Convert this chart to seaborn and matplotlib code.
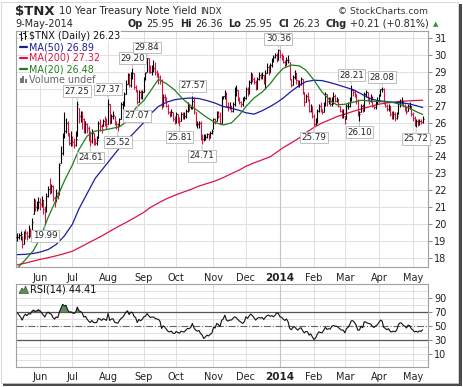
import numpy as np
import pandas as pd
import matplotlib
matplotlib.use('Agg')
import matplotlib.pyplot as plt
import seaborn as sns
from matplotlib.lines import Line2D
from matplotlib.patches import Rectangle, Polygon

# ------------------------------------------------------------------ data
first_day, last_day = '2013-05-13', '2014-05-09'
holidays = ['2013-05-27', '2013-07-04', '2013-09-02', '2013-11-28', '2013-12-25',
            '2014-01-01', '2014-01-20', '2014-02-17', '2014-04-18']

close_vals = [
    19.25, 19.38, 19.42, 18.80, 19.52, 19.45, 19.30, 19.60, 19.55, 20.10,
    21.30, 21.00, 21.10, 21.30, 21.20, 21.40, 20.90, 20.70, 21.65,
    22.10, 22.00, 22.25, 21.55, 21.30, 21.85, 21.80, 23.50, 24.20, 25.20,
    25.50, 26.00, 25.40, 24.80, 24.90, 24.85, 24.70, 25.05, 27.10,
    26.40, 26.40, 26.20, 25.70, 25.90, 25.70, 25.30, 24.90, 25.40, 24.90,
    24.80, 25.00, 25.95, 25.80, 25.60, 26.10, 26.00, 25.80, 27.10, 26.00,
    26.40, 26.45, 26.00, 25.90, 25.80, 26.20, 27.10, 27.10, 27.70, 28.30,
    28.80, 28.20, 28.90, 28.90, 28.10, 27.90, 27.20, 27.80, 27.50, 27.80,
    28.60, 28.95, 29.80, 29.30, 29.00, 29.10, 29.20, 29.00, 28.90,
    28.70, 28.50, 26.90, 27.50, 27.40, 27.00, 26.60, 26.50, 26.60, 26.20,
    26.10, 26.50, 26.20, 26.10, 26.50, 26.40, 26.40, 26.70, 27.00, 26.90,
    26.90, 27.30, 26.70, 25.90, 25.90, 26.00, 25.10, 25.05, 25.10, 25.15,
    25.30, 25.20, 25.40, 25.50, 26.20, 26.10, 26.60, 26.40, 26.00, 27.50,
    27.55, 27.70, 27.00, 26.90, 27.00, 26.70, 27.10, 27.90, 27.90, 27.40,
    27.20, 27.10, 27.40, 27.45, 28.00, 27.80, 28.40, 28.80, 28.60,
    28.40, 28.00, 28.60, 28.80, 28.70, 28.80, 28.40, 28.90, 29.30, 28.90,
    29.40, 29.70, 29.90, 30.00, 29.70, 30.30, 30.00, 29.90,
    29.60, 29.40, 29.70, 29.70, 28.60, 28.20, 28.70, 28.90, 28.50, 28.20,
    28.30, 28.60, 27.80, 27.20, 27.60, 27.50, 26.70, 27.00, 26.40,
    25.90, 26.10, 26.70, 27.00, 26.80, 26.60, 27.10, 27.70, 27.30, 27.40,
    27.10, 27.30, 27.60, 27.30, 27.40, 27.00, 26.70, 26.40, 26.50,
    26.00, 27.00, 27.00, 27.40, 27.90, 27.80, 27.70, 27.30, 26.50, 26.50,
    27.00, 26.70, 27.70, 27.80, 27.40, 27.30, 27.50, 27.00, 26.90, 27.20,
    27.30, 27.60, 28.00, 28.00, 27.20, 27.00, 26.80, 27.00, 26.50, 26.30,
    26.50, 26.30, 26.40, 27.20, 27.20, 27.30, 27.00, 26.90, 26.60,
    27.00, 27.00, 26.50, 26.30, 25.90, 26.10, 25.95, 26.10, 26.02, 26.23]

high_vals = [
    19.45, 19.50, 19.62, 19.30, 19.60, 19.70, 19.60, 19.95, 19.80, 20.35,
    21.55, 21.50, 21.35, 21.60, 21.55, 21.65, 21.45, 21.05, 21.85,
    22.25, 22.70, 22.40, 22.30, 21.65, 22.05, 21.95, 23.60, 24.60, 25.40,
    26.60, 26.30, 26.10, 25.40, 25.50, 25.20, 25.10, 25.50, 27.25,
    26.85, 26.70, 26.70, 26.30, 26.10, 26.00, 25.80, 25.50, 25.60, 25.40,
    25.10, 25.20, 26.10, 26.20, 25.90, 26.20, 26.40, 26.30, 27.37, 27.10,
    26.50, 26.70, 26.40, 26.10, 26.00, 26.30, 27.20, 27.30, 27.80, 28.50,
    28.90, 28.90, 29.00, 29.20, 28.95, 28.20, 27.90, 27.90, 27.90, 27.90,
    28.70, 29.00, 29.84, 29.80, 29.40, 29.40, 29.70, 29.60, 29.10,
    28.90, 28.80, 28.60, 27.70, 27.70, 27.50, 27.10, 26.70, 26.80, 26.65,
    26.40, 26.60, 26.50, 26.35, 26.60, 26.60, 26.60, 26.80, 27.20, 27.10,
    27.00, 27.57, 27.50, 26.60, 26.10, 26.10, 26.10, 25.30, 25.30, 25.30,
    25.40, 25.40, 25.50, 25.60, 26.30, 26.30, 26.70, 26.70, 26.60, 27.60,
    27.60, 27.90, 27.80, 27.20, 27.20, 27.00, 27.20, 28.10, 28.20, 27.90,
    27.50, 27.30, 27.50, 27.60, 28.10, 28.10, 28.50, 29.00, 28.90,
    28.70, 28.50, 28.70, 29.00, 28.90, 29.00, 28.80, 29.10, 29.50, 29.40,
    29.50, 29.80, 30.00, 30.10, 30.10, 30.36, 30.30, 30.10,
    30.00, 29.70, 29.90, 30.00, 29.60, 28.60, 28.80, 29.10, 28.90, 28.50,
    28.50, 28.70, 28.60, 27.80, 27.70, 27.80, 27.40, 27.10, 26.90,
    26.50, 26.30, 26.80, 27.10, 27.20, 26.80, 27.20, 27.80, 27.70, 27.50,
    27.50, 27.50, 27.80, 27.70, 27.50, 27.40, 27.00, 26.80, 26.80,
    26.40, 27.10, 27.20, 27.50, 28.21, 28.00, 27.90, 27.70, 27.40, 26.70,
    27.10, 27.10, 27.80, 27.90, 27.80, 27.50, 27.70, 27.60, 27.00, 27.30,
    27.50, 27.70, 28.00, 28.08, 28.05, 27.20, 27.10, 27.10, 27.00, 26.70,
    26.70, 26.60, 26.60, 27.30, 27.40, 27.50, 27.30, 27.10, 27.00,
    27.10, 27.20, 27.00, 26.60, 26.40, 26.20, 26.20, 26.20, 26.20, 26.36]

low_vals = [
    19.00, 19.10, 19.05, 18.62, 18.85, 19.10, 19.05, 19.20, 19.25, 19.55,
    20.60, 20.80, 20.75, 20.90, 20.85, 21.00, 20.60, 19.99, 20.70,
    21.60, 21.80, 21.85, 21.35, 21.00, 21.35, 21.50, 21.70, 23.60, 24.10,
    25.10, 25.40, 25.20, 24.70, 24.60, 24.60, 24.50, 24.60, 25.20,
    26.00, 26.05, 25.60, 25.40, 25.40, 25.40, 24.90, 24.61, 24.80, 24.70,
    24.65, 24.70, 25.10, 25.50, 25.40, 25.80, 25.80, 25.60, 25.90, 25.90,
    26.00, 26.20, 25.85, 25.60, 25.52, 25.80, 26.20, 26.80, 27.00, 27.70,
    28.30, 28.10, 28.10, 28.60, 28.00, 27.80, 27.07, 27.20, 27.40, 27.40,
    27.80, 28.50, 29.00, 28.90, 28.90, 28.80, 29.00, 28.80, 28.70,
    28.30, 28.30, 26.80, 27.00, 27.30, 26.90, 26.50, 26.35, 26.40, 26.10,
    25.90, 26.00, 26.00, 25.81, 26.10, 26.20, 26.20, 26.30, 26.60, 26.70,
    26.80, 26.80, 26.50, 25.80, 25.70, 25.70, 24.95, 24.71, 24.90, 25.00,
    25.10, 25.00, 25.10, 25.30, 25.60, 25.90, 26.10, 26.30, 25.90, 26.00,
    27.40, 27.40, 26.90, 26.70, 26.80, 26.60, 26.60, 27.00, 27.60, 27.30,
    27.10, 26.90, 27.00, 27.30, 27.40, 27.60, 27.70, 28.30, 28.40,
    28.30, 27.90, 28.00, 28.50, 28.60, 28.60, 28.30, 28.00, 28.90, 28.80,
    29.00, 29.30, 29.60, 29.80, 29.60, 29.70, 29.80, 29.70,
    29.50, 29.30, 29.40, 29.50, 28.50, 28.10, 28.20, 28.60, 28.30, 28.10,
    28.10, 28.20, 27.70, 27.00, 27.20, 27.30, 26.60, 26.60, 26.30,
    25.79, 25.85, 26.00, 26.60, 26.60, 26.50, 26.60, 27.00, 27.00, 27.10,
    27.00, 27.00, 27.10, 27.20, 27.20, 26.90, 26.60, 26.30, 26.30,
    25.90, 26.20, 26.80, 26.90, 27.30, 27.60, 27.50, 27.10, 26.40, 26.10,
    26.60, 26.60, 26.70, 27.50, 27.30, 27.10, 27.20, 26.90, 26.80, 26.80,
    27.10, 27.20, 27.60, 27.80, 27.10, 26.90, 26.70, 26.70, 26.40, 26.20,
    26.20, 26.10, 26.20, 26.50, 26.90, 27.10, 26.90, 26.70, 26.50,
    26.70, 26.80, 26.40, 26.10, 25.80, 25.72, 25.80, 25.85, 25.90, 25.95]

rsi_vals = [
    69, 66, 63, 58.5, 64, 67, 65, 68, 67, 71,
    73, 71, 72, 73.5, 72, 69, 66, 63, 68,
    70, 68, 67, 62, 60, 63, 62, 70.5, 76, 81.3,
    79, 80, 73.5, 70, 70.5, 69, 68, 70, 77.4,
    72, 71, 69, 63, 64, 60, 57, 55, 58, 55,
    54.6, 55, 61, 60, 58, 60.5, 59.5, 58, 68, 58,
    60, 60.5, 55.5, 54.6, 54, 58, 61, 62.5, 66, 70,
    72, 66.5, 70, 69.5, 64, 62, 55, 59.5, 57.5, 59.5,
    63, 64, 68, 65, 62.3, 62.8, 63, 61, 60,
    59.5, 57, 46.4, 50, 48.5, 45, 42, 41.4, 42.5, 39.5,
    39, 42, 40.5, 39.5, 42.4, 41.5, 41.5, 44, 46.4, 46,
    48, 53.6, 47, 43.9, 42.5, 43.5, 39, 37, 31.8, 34,
    36.6, 35.5, 38, 39.5, 48, 47, 53.6, 52, 49, 58,
    60, 65.7, 58.5, 57, 58.5, 58.5, 61, 63.3, 62, 59.5,
    57, 55.5, 53.6, 56, 63.3, 61, 64.5, 67.2, 65,
    62, 58.5, 61, 62.3, 61.5, 62.3, 59.5, 62.5, 65, 65.7,
    64, 65, 63.3, 65.5, 69, 68, 63.3, 62.5,
    60, 58, 60, 56.1, 46.4, 44.5, 48, 49, 46, 43.9,
    46.4, 47.5, 43, 40, 42, 41.5, 36.6, 38.5, 34,
    30.3, 32.5, 38, 41.4, 40.5, 40, 44, 48, 45, 46,
    45.5, 49.7, 50.5, 49.7, 49.5, 47.8, 45.5, 43.9, 44,
    40, 46, 48, 52, 57.5, 57.5, 55, 51, 43.9, 44,
    49.7, 47.5, 56.1, 55.5, 54, 53.5, 52.6, 49.5, 47.8, 50,
    51.5, 55, 58.5, 57, 48, 46.4, 44.5, 46, 42, 41.4,
    42.5, 41.5, 43.9, 51.5, 54.6, 54, 51, 49.7, 47,
    51.2, 50.5, 46, 44, 41.4, 42.4, 41, 42.8, 42, 44.41]

# moving averages read at each week's first session (plus the last session)
ma200 = [17.60, 17.70, 17.82, 17.92, 18.02, 18.13, 18.26, 18.40, 18.60, 18.85,
         19.10, 19.35, 19.63, 19.90, 20.15, 20.42, 20.70, 20.98, 21.25, 21.50,
         21.70, 21.88, 22.05, 22.25, 22.40, 22.55, 22.75, 22.98, 23.20, 23.42,
         23.62, 23.80, 23.98, 24.25, 24.52, 24.80, 25.10, 25.40, 25.72, 25.98,
         26.18, 26.35, 26.50, 26.66, 26.80, 26.93, 27.07, 27.15, 27.20, 27.25,
         27.28, 27.31, 27.32]
ma50 = [18.20, 18.22, 18.27, 18.35, 18.50, 18.80, 19.30, 20.00, 20.90, 21.80,
        22.70, 23.30, 23.90, 24.50, 25.00, 25.50, 26.00, 26.50, 26.95, 27.20,
        27.35, 27.42, 27.45, 27.42, 27.30, 27.15, 26.95, 26.85, 26.72, 26.58,
        26.50, 26.70, 26.95, 27.18, 27.45, 27.85, 28.20, 28.42, 28.50, 28.48,
        28.36, 28.25, 28.10, 27.95, 27.70, 27.45, 27.30, 27.25, 27.20, 27.17,
        27.12, 27.00, 26.89]
ma20 = [17.40, 17.90, 18.45, 19.15, 20.40, 21.45, 22.55, 23.50, 24.40, 25.20,
        25.50, 25.55, 25.65, 25.75, 26.10, 26.85, 27.30, 27.85, 28.55, 28.30,
        27.93, 27.40, 27.00, 26.65, 26.30, 26.00, 25.86, 25.98, 26.45, 26.95,
        27.45, 27.80, 28.30, 28.80, 29.20, 29.40, 29.35, 29.10, 28.50, 27.80,
        27.30, 27.05, 27.08, 27.20, 27.32, 27.28, 27.25, 27.22, 27.18, 27.08,
        26.88, 26.65, 26.48]

label_dates = ['2013-06-06', '2013-07-05', '2013-07-17', '2013-08-01', '2013-08-09',
               '2013-08-22', '2013-08-27', '2013-09-05', '2013-10-03', '2013-10-15',
               '2013-10-23', '2013-12-31', '2014-02-03', '2014-03-07', '2014-03-14',
               '2014-04-03', '2014-05-05']
label_kind = ['low', 'high', 'low', 'high', 'low', 'high', 'low', 'high', 'low', 'high',
              'low', 'high', 'low', 'high', 'low', 'high', 'low']

month_names = ['Jun', 'Jul', 'Aug', 'Sep', 'Oct', 'Nov', 'Dec', '2014',
               'Feb', 'Mar', 'Apr', 'May']
price_ticks = list(range(18, 32))
rsi_ticks = [10, 30, 50, 70, 90]

# ------------------------------------------------------------------ style
sns.set_style('white')
plt.rcParams['font.family'] = ['DejaVu Sans']

RED = '#dc1443'
BLUE = '#1c1c9e'
GREEN = '#1f7f1f'
GRID = '#e0e0e0'

dates = pd.bdate_range(first_day, last_day)
dates = dates[~dates.isin(pd.to_datetime(holidays))]
x = np.arange(len(dates))
close = np.array(close_vals)
high = np.array(high_vals)
low = np.array(low_vals)
rsi = np.array(rsi_vals, dtype=float)
prev = np.r_[close[0], close[:-1]]
opn = np.clip(prev, low, high)
bar_col = np.where(close >= prev, '#000000', RED)

ma_dates = list(pd.date_range(first_day, periods=52, freq='7D')) + [pd.Timestamp(last_day)]
ma_x = dates.searchsorted(pd.DatetimeIndex(ma_dates))
month_starts = pd.date_range('2013-06-01', '2014-05-01', freq='MS')
month_pos = dates.searchsorted(month_starts)

W, H = 464, 387
def fx(v):
    return v / W
def fy(v):
    return 1 - v / H

fig = plt.figure(figsize=(W / 100, H / 100), dpi=100)
fig.patch.set_facecolor('white')
ax = fig.add_axes([fx(16), fy(267), fx(428) - fx(16), fy(31) - fy(267)])
axr = fig.add_axes([fx(16), fy(367), fx(428) - fx(16), fy(284) - fy(367)])

XL = (-0.8, 253.3)

# ------------------------------------------------------------------ price panel
for yv in price_ticks:
    ax.axhline(yv, color=GRID, lw=0.7, zorder=0)
for p, name in zip(month_pos, month_names):
    ax.axvline(p, color='#c4c4c4' if name == '2014' else GRID, lw=0.8 if name == '2014' else 0.7, zorder=0)

sns.lineplot(x=ma_x, y=ma200, ax=ax, color=RED, lw=0.9, sort=False, estimator=None, zorder=2)
ax.vlines(x, low, high, colors=bar_col, lw=0.8, zorder=3)
ax.hlines(opn, x - 0.6, x, colors=bar_col, lw=0.8, zorder=3)
ax.hlines(close, x, x + 0.6, colors=bar_col, lw=0.8, zorder=3)
sns.lineplot(x=ma_x, y=ma50, ax=ax, color=BLUE, lw=0.9, sort=False, estimator=None, zorder=4)
sns.lineplot(x=ma_x, y=ma20, ax=ax, color=GREEN, lw=0.9, sort=False, estimator=None, zorder=4)

for d, kind in zip(label_dates, label_kind):
    i = dates.get_loc(pd.Timestamp(d))
    v = high[i] if kind == 'high' else low[i]
    off = 4 if kind == 'high' else -5
    ax.annotate(f'{v:.2f}', xy=(i, v), xytext=(0, off), textcoords='offset points',
                ha='center', va='bottom' if kind == 'high' else 'top', fontsize=6.3,
                bbox=dict(boxstyle='square,pad=0.16', fc='white', ec='#bdbdbd', lw=0.7),
                arrowprops=dict(arrowstyle='-', color='#bdbdbd', lw=0.7, shrinkA=0, shrinkB=1),
                zorder=6, annotation_clip=False)

ax.set_xlim(*XL)
ax.set_ylim(17.47, 31.41)
ax.set_yticks(price_ticks)
ax.set_yticklabels([str(t) for t in price_ticks])
ax.set_xticks(month_pos)
ax.set_xticklabels(month_names)
ax.yaxis.tick_right()
ax.tick_params(axis='y', right=True, left=False, length=3, width=0.7, color='#888888',
               labelsize=7, pad=1.5, labelcolor='#222222')
ax.tick_params(axis='x', bottom=False, length=0, labelsize=7, pad=4, labelcolor='#222222')
for spine in ax.spines.values():
    spine.set_color('#a0a0a0')
    spine.set_linewidth(0.8)
ax.set_xlabel('')
ax.set_ylabel('')

# ------------------------------------------------------------------ RSI panel
for yv in range(0, 101, 10):
    if yv not in (30, 50, 70):
        axr.axhline(yv, color=GRID, lw=0.7, zorder=0)
for p, name in zip(month_pos, month_names):
    axr.axvline(p, color='#c4c4c4' if name == '2014' else GRID, lw=0.8 if name == '2014' else 0.7, zorder=0)
axr.axhline(70, color='#555555', lw=0.9, zorder=1)
axr.axhline(30, color='#555555', lw=0.9, zorder=1)
axr.axhline(50, color='#666666', lw=0.8, ls='-.', zorder=1)
axr.fill_between(x, rsi, 70, where=rsi >= 70, interpolate=True, color='#5e8e5e', lw=0, zorder=2)
axr.fill_between(x, rsi, 30, where=rsi <= 30, interpolate=True, color='#5e8e5e', lw=0, zorder=2)
sns.lineplot(x=x, y=rsi, ax=axr, color='#111111', lw=0.8, sort=False, estimator=None, zorder=3)
axr.set_xlim(*XL)
axr.set_ylim(-9.5, 110.8)
axr.set_yticks(rsi_ticks)
axr.set_yticklabels([str(t) for t in rsi_ticks])
axr.set_xticks(month_pos)
axr.set_xticklabels(month_names)
axr.yaxis.tick_right()
axr.tick_params(axis='y', right=True, left=False, length=3, width=0.7, color='#888888',
                labelsize=7, pad=1.5, labelcolor='#222222')
axr.tick_params(axis='x', bottom=False, length=0, labelsize=7, pad=3.5, labelcolor='#222222')
for spine in axr.spines.values():
    spine.set_color('#a0a0a0')
    spine.set_linewidth(0.8)
axr.set_xlabel('')
axr.set_ylabel('')

for a in (ax, axr):
    for lab in a.get_xticklabels():
        if lab.get_text() == '2014':
            lab.set_fontweight('bold')
            lab.set_fontsize(7.5)

# ------------------------------------------------------------------ texts
renderer = fig.canvas.get_renderer()

def seq_text(x0, y0, pieces):
    xc = x0
    for s, kw, gap in pieces:
        t = fig.text(fx(xc), fy(y0), s, va='center', ha='left', **kw)
        xc += t.get_window_extent(renderer).width + gap
    return xc

seq_text(15, 11.5, [(r'\$TNX', dict(fontsize=9.5, fontweight='bold'), 4),
                    ('10 Year Treasury Note Yield', dict(fontsize=7.3), 4),
                    ('INDX', dict(fontsize=6.2), 0)])
fig.text(fx(428), fy(11.5), '\u00a9 StockCharts.com', ha='right', va='center',
         fontsize=6.6, color='#333333')
fig.text(fx(15), fy(24), '9-May-2014', ha='left', va='center', fontsize=7)
bold = dict(fontsize=7, fontweight='bold')
reg = dict(fontsize=7)
end = seq_text(128, 24, [('Op', bold, 3), ('25.95', reg, 6), ('Hi', bold, 3), ('26.36', reg, 6),
                         ('Lo', bold, 3), ('25.95', reg, 6), ('Cl', bold, 3), ('26.23', reg, 6),
                         ('Chg', bold, 3), ('+0.21 (+0.81%)', reg, 4)])
fig.text(fx(end), fy(24), '\u25b2', ha='left', va='center', fontsize=5, color='#2a9a2a')

# legend rows of the price panel
rows = [('\\$TNX (Daily) 26.23', '#111111'), ('MA(50) 26.89', BLUE), ('MA(200) 27.32', RED),
        ('MA(20) 26.48', GREEN), ('Volume undef', '#666666')]
row_y = [36, 47, 58, 69, 80]
for (txt, col), yy in zip(rows, row_y):
    t = fig.text(fx(29), fy(yy), txt, ha='left', va='center', fontsize=6.9, color=col, zorder=7)
    t.set_bbox(dict(fc='white', ec='none', pad=0.2, alpha=0.85))
# icons
for xx, y1, y2, yo, yc in [(21, 32, 40, 34, 38), (25, 31, 39, 33, 36)]:
    fig.add_artist(Line2D([fx(xx), fx(xx)], [fy(y1), fy(y2)], color='#111111', lw=0.8))
    fig.add_artist(Line2D([fx(xx - 1.5), fx(xx)], [fy(yo), fy(yo)], color='#111111', lw=0.8))
    fig.add_artist(Line2D([fx(xx), fx(xx + 1.5)], [fy(yc), fy(yc)], color='#111111', lw=0.8))
for col, yy in zip([BLUE, RED, GREEN], row_y[1:4]):
    fig.add_artist(Line2D([fx(20), fx(27.5)], [fy(yy), fy(yy)], color=col, lw=1.6))
for xx, hh in [(20, 5), (22.5, 7), (25, 4)]:
    fig.add_artist(Rectangle((fx(xx), fy(83)), 2 / W, hh / H, transform=fig.transFigure,
                             color='#777777', lw=0))

# RSI label
fig.add_artist(Polygon([(fx(19), fy(293.5)), (fx(22), fy(288)), (fx(24), fy(290)),
                        (fx(25.5), fy(286)), (fx(28.5), fy(293.5))], closed=True,
                       transform=fig.transFigure, fc='#5e8e5e', ec='#2f5f2f', lw=0.5))
t = fig.text(fx(30), fy(290), 'RSI(14) 44.41', ha='left', va='center', fontsize=7, color='#111111')

# frame shadow
fig.add_artist(Rectangle((fx(459), fy(385)), 3 / W, 381 / H, transform=fig.transFigure,
                         color='#4a4a4a', lw=0))
fig.add_artist(Rectangle((fx(3), fy(386)), 459 / W, 3 / H, transform=fig.transFigure,
                         color='#4a4a4a', lw=0))
fig.add_artist(Rectangle((fx(0.5), fy(383)), 458 / W, 381.5 / H, transform=fig.transFigure,
                         fill=False, ec='#d0d0d0', lw=0.6))

fig.savefig('out.png', dpi=100, facecolor='white')
